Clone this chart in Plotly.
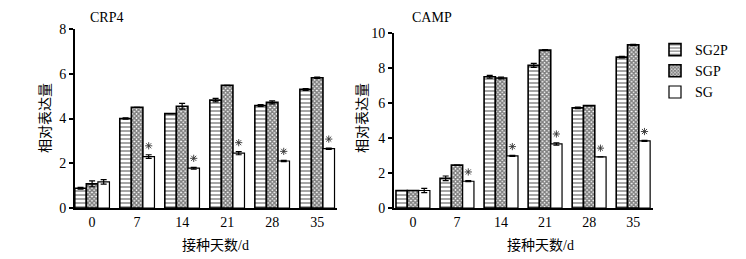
import plotly.graph_objects as go

days = ["0", "7", "14", "21", "28", "35"]
series = ["SG2P", "SGP", "SG"]

crp4_sg2p = [0.88, 4.0, 4.22, 4.82, 4.58, 5.3]
crp4_sgp = [1.08, 4.5, 4.55, 5.48, 4.72, 5.82]
crp4_sg = [1.17, 2.3, 1.78, 2.45, 2.1, 2.65]
crp4_sg2p_err = [0.04, 0.03, 0.0, 0.08, 0.04, 0.04]
crp4_sgp_err = [0.13, 0.0, 0.13, 0.0, 0.07, 0.03]
crp4_sg_err = [0.1, 0.08, 0.04, 0.07, 0.03, 0.03]

camp_sg2p = [1.0, 1.7, 7.5, 8.15, 5.72, 8.62]
camp_sgp = [1.0, 2.45, 7.43, 9.02, 5.85, 9.32]
camp_sg = [1.0, 1.53, 2.98, 3.66, 2.92, 3.84]
camp_sg2p_err = [0.0, 0.13, 0.08, 0.12, 0.04, 0.04]
camp_sgp_err = [0.0, 0.0, 0.05, 0.03, 0.0, 0.03]
camp_sg_err = [0.12, 0.03, 0.03, 0.07, 0.0, 0.03]

significant = [False, True, True, True, True, True]

SERIF = "Liberation Serif, Times New Roman, Noto Sans CJK SC, serif"
BARGAP = 0.23
xs = list(range(len(days)))

styles = {
    "SG2P": dict(color="white", line=dict(color="black", width=1.6),
                 pattern=dict(shape="-", fgcolor="black", bgcolor="white", size=4, solidity=0.35)),
    "SGP": dict(color="white", line=dict(color="black", width=1.6),
                pattern=dict(shape="x", fgcolor="black", bgcolor="white", size=3, solidity=0.75)),
    "SG": dict(color="white", line=dict(color="black", width=1.2)),
}

fig = go.Figure()

panels = [
    ("x", "y", [crp4_sg2p, crp4_sgp, crp4_sg], [crp4_sg2p_err, crp4_sgp_err, crp4_sg_err], True, 8),
    ("x2", "y2", [camp_sg2p, camp_sgp, camp_sg], [camp_sg2p_err, camp_sgp_err, camp_sg_err], False, 10),
]

for xa, ya, vals, errs, show, ymax in panels:
    for name, v, e in zip(series, vals, errs):
        fig.add_trace(go.Bar(
            x=xs, y=v, name=name, xaxis=xa, yaxis=ya, showlegend=show,
            marker=styles[name], legendgroup=name,
            error_y=dict(type="data", array=e, color="black", thickness=1.2, width=3, visible=True),
        ))
    bw = (1 - BARGAP) / 3
    sg_v, sg_e = vals[2], errs[2]
    gap = ymax * 0.05
    sx = [i + bw for i in xs if significant[i]]
    sy = [sg_v[i] + sg_e[i] + gap for i in xs if significant[i]]
    fig.add_trace(go.Scatter(
        x=sx, y=sy, mode="markers",
        marker=dict(symbol="asterisk-open", size=6, line=dict(color="#333", width=0.9), color="#333"),
        xaxis=xa, yaxis=ya, showlegend=False, hoverinfo="skip",
    ))

axis_common = dict(showline=True, linecolor="black", linewidth=1.8, showgrid=False, zeroline=False,
                   automargin=False, tickfont=dict(family=SERIF, size=14, color="black"))

fig.update_layout(
    width=746, height=259,
    margin=dict(l=0, r=0, t=0, b=0, autoexpand=False),
    paper_bgcolor="white", plot_bgcolor="white",
    barmode="group", bargap=BARGAP, bargroupgap=0,
    font=dict(family=SERIF, color="black"),
    xaxis=dict(domain=[75/746, 337/746], range=[-0.38, 5.44], tickvals=xs, ticktext=days,
               ticks="", anchor="y", **axis_common),
    yaxis=dict(domain=[1-208/259, 1-29/259], range=[0, 8], dtick=2, ticks="outside", ticklen=4,
               tickwidth=1.5, tickcolor="black", anchor="x", **axis_common),
    xaxis2=dict(domain=[394/746, 653/746], range=[-0.43, 5.45], tickvals=xs, ticktext=days,
                ticks="", anchor="y2", **axis_common),
    yaxis2=dict(domain=[1-208/259, 1-33/259], range=[0, 10], dtick=2, ticks="outside", ticklen=4,
                tickwidth=1.5, tickcolor="black", anchor="x2", **axis_common),
    legend=dict(x=655/746, y=1-34/259, xanchor="left", yanchor="top",
                font=dict(family=SERIF, size=14, color="black"), bgcolor="rgba(0,0,0,0)",
                tracegroupgap=0, itemwidth=30),
)

for text, xt in [("CRP4", 88/746), ("CAMP", 410/746)]:
    fig.add_annotation(text=text, x=xt, y=1-18/259, xref="paper", yref="paper",
                       xanchor="left", yanchor="middle", showarrow=False,
                       font=dict(family=SERIF, size=14, color="black"))
for xt in [215/746, 540/746]:
    fig.add_annotation(text="接种天数/d", x=xt, y=1-245/259, xref="paper", yref="paper",
                       xanchor="center", yanchor="middle", showarrow=False,
                       font=dict(family=SERIF, size=14, color="black"))
for xt in [45/746, 362/746]:
    fig.add_annotation(text="相对表达量", x=xt, y=1-118/259, xref="paper", yref="paper",
                       xanchor="center", yanchor="middle", showarrow=False, textangle=-90,
                       font=dict(family=SERIF, size=14, color="black"))

fig.write_html("out.html", config={"displayModeBar": False},
               post_script="document.body.style.margin='0';document.body.style.overflow='hidden';")
